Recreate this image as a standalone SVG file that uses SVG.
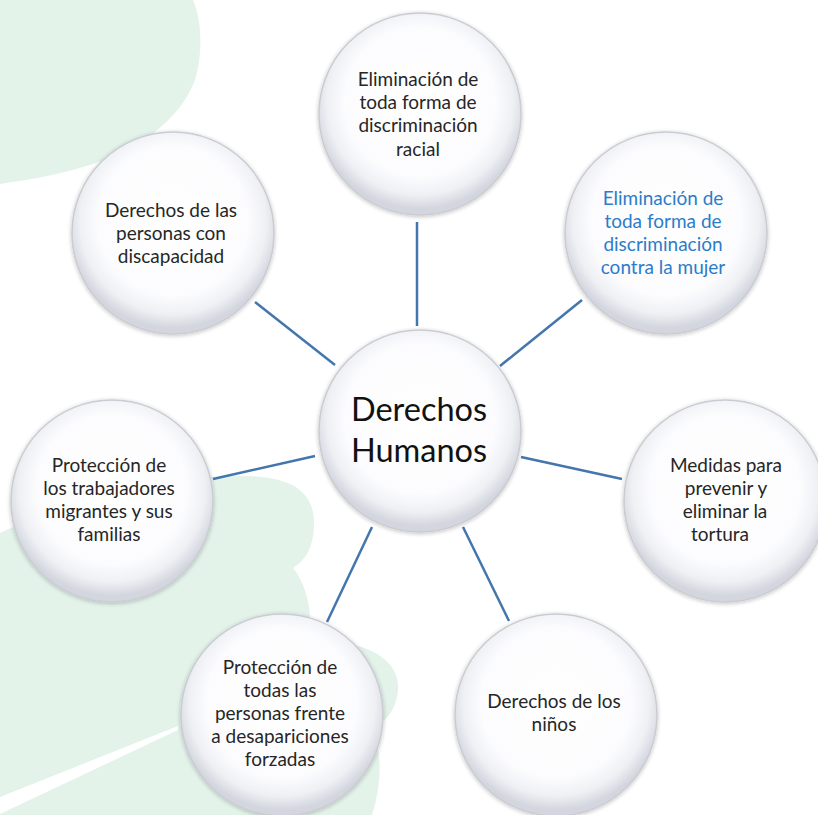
<svg xmlns="http://www.w3.org/2000/svg" width="818" height="815" viewBox="0 0 818 815">
<defs>
<radialGradient id="ball" cx="50%" cy="44%" r="53%">
<stop offset="0" stop-color="#ffffff"/>
<stop offset="0.7" stop-color="#fcfcfe"/>
<stop offset="0.87" stop-color="#eef0f4"/>
<stop offset="1" stop-color="#d3d6de"/>
</radialGradient>
<filter id="sh" x="-20%" y="-20%" width="140%" height="140%">
<feGaussianBlur in="SourceAlpha" stdDeviation="2"/>
<feOffset dx="0" dy="1" result="b"/>
<feComponentTransfer><feFuncA type="linear" slope="0.25"/></feComponentTransfer>
<feMerge><feMergeNode/><feMergeNode in="SourceGraphic"/></feMerge>
</filter>
</defs>
<style>
.c{fill:url(#ball);stroke:#cbccd2;stroke-width:1.5;filter:url(#sh)}
.t{font-family:Lato,"Open Sans","Liberation Sans",sans-serif;font-size:19px;fill:#262626;text-anchor:middle}
.b{fill:#2c7cc9}
.big{font-size:32.5px;fill:#111}
.ln{stroke:#4476ad;stroke-width:2.5;fill:none}
</style>
<rect width="818" height="815" fill="#ffffff"/>
<g id="background" fill="#e3f3ea">
<path d="M0,0 L193,0 C202,20 203,55 195,80 C180,120 140,148 90,165 C55,176 25,180 0,184 Z"/>
<path d="M0,533 C60,505 150,478 230,476 C290,474 315,490 314,525 C313,550 305,560 293,568 C303,580 310,600 310,620 L330,640 C370,645 400,660 398,690 C396,715 380,725 370,730 C385,750 380,790 372,815 L0,815 Z"/>
<polygon points="0,797 178,726 178,730 0,814" fill="#ffffff"/>
</g>
<g id="connectors">
<line class="ln" x1="417" y1="222" x2="417" y2="326"/>
<line class="ln" x1="255" y1="302" x2="335" y2="365"/>
<line class="ln" x1="582" y1="300" x2="500" y2="366"/>
<line class="ln" x1="213" y1="479" x2="315" y2="456"/>
<line class="ln" x1="521" y1="457" x2="622" y2="479"/>
<line class="ln" x1="372" y1="527" x2="327" y2="622"/>
<line class="ln" x1="463" y1="527" x2="509" y2="621"/>
</g>
<g id="center">
<circle class="c" cx="420" cy="431" r="101"/>
<text class="t big" x="419" y="421">Derechos</text>
<text class="t big" x="419" y="462">Humanos</text>
</g>
<g id="top">
<circle class="c" cx="420" cy="114" r="101"/>
<text class="t" x="418" y="86">Eliminación de</text>
<text class="t" x="418" y="109">toda forma de</text>
<text class="t" x="418" y="132">discriminación</text>
<text class="t" x="418" y="156">racial</text>
</g>
<g id="upper-right">
<circle class="c" cx="666" cy="233" r="101"/>
<text class="t b" x="663" y="205">Eliminación de</text>
<text class="t b" x="663" y="228">toda forma de</text>
<text class="t b" x="663" y="251">discriminación</text>
<text class="t b" x="663" y="274">contra la mujer</text>
</g>
<g id="upper-left">
<circle class="c" cx="173" cy="233" r="101"/>
<text class="t" x="171" y="217">Derechos de las</text>
<text class="t" x="171" y="240">personas con</text>
<text class="t" x="171" y="263">discapacidad</text>
</g>
<g id="left">
<circle class="c" cx="112" cy="501" r="101"/>
<text class="t" x="109" y="472">Protección de</text>
<text class="t" x="109" y="495">los trabajadores</text>
<text class="t" x="109" y="518">migrantes y sus</text>
<text class="t" x="109" y="541">familias</text>
</g>
<g id="right">
<circle class="c" cx="725" cy="501" r="101"/>
<text class="t" x="726" y="472">Medidas para</text>
<text class="t" x="726" y="495">prevenir y</text>
<text class="t" x="725" y="518">eliminar la</text>
<text class="t" x="720" y="541">tortura</text>
</g>
<g id="bottom-left">
<circle class="c" cx="282" cy="715" r="101"/>
<text class="t" x="280" y="674">Protección de</text>
<text class="t" x="280" y="697">todas las</text>
<text class="t" x="280" y="720">personas frente</text>
<text class="t" x="280" y="743">a desapariciones</text>
<text class="t" x="280" y="766">forzadas</text>
</g>
<g id="bottom-right">
<circle class="c" cx="556" cy="715" r="101"/>
<text class="t" x="554" y="708">Derechos de los</text>
<text class="t" x="554" y="731">niños</text>
</g>
</svg>
